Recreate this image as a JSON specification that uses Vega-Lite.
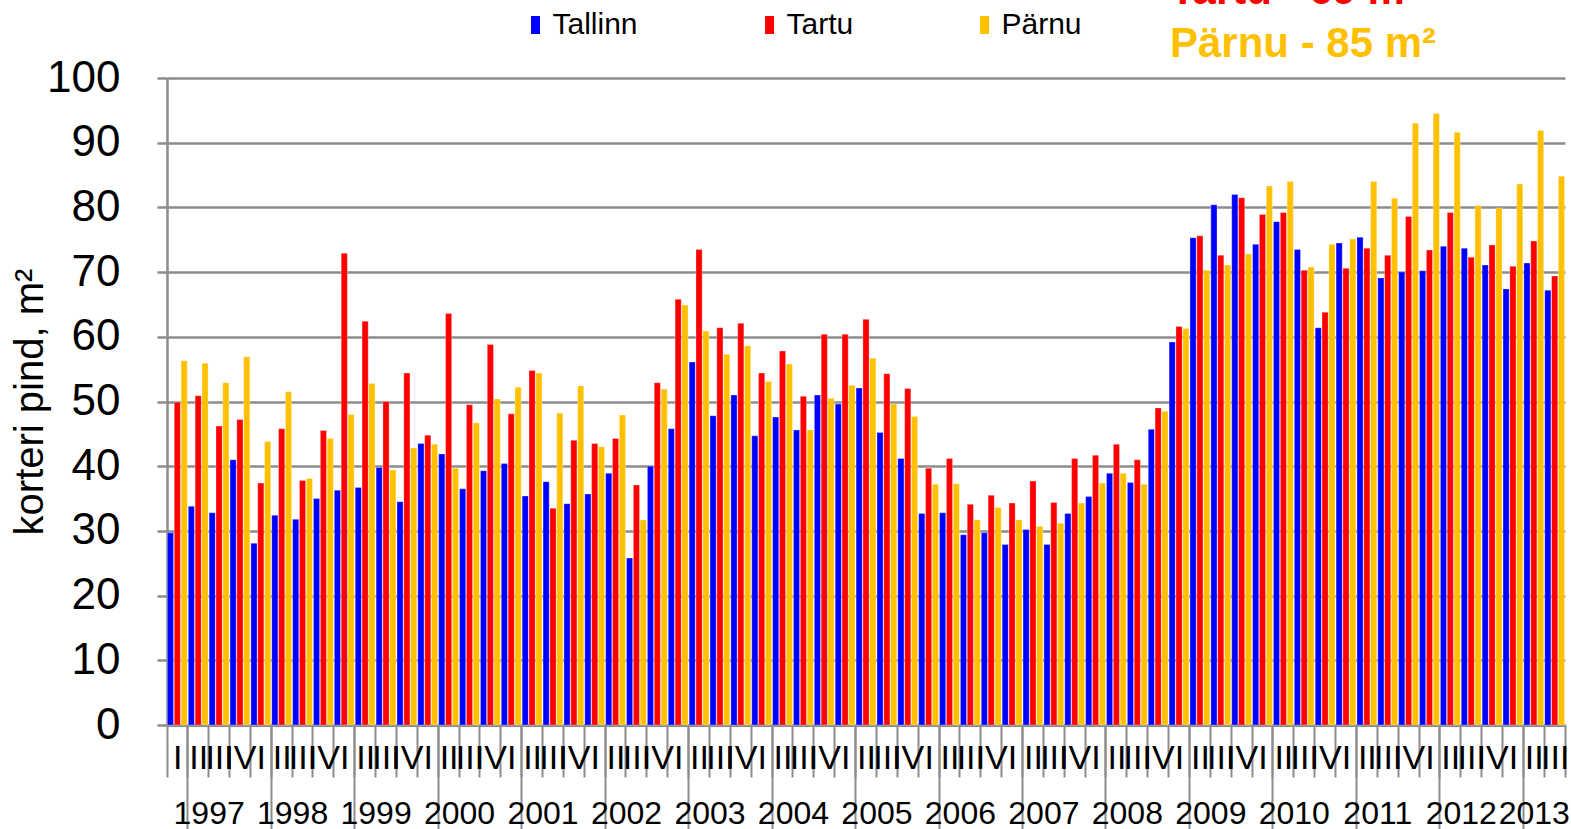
{
  "$schema": "https://vega.github.io/schema/vega-lite/v6.json",
  "width": 1398,
  "height": 647,
  "autosize": {"type": "none"},
  "padding": {"left": 167, "top": 78, "right": 6, "bottom": 104},
  "background": "white",
  "config": {"font": "Liberation Sans", "view": {"stroke": null}},
  "title": {
    "text": "Tartu - 69 m²",
    "subtitle": "Pärnu - 85 m²",
    "anchor": "start",
    "frame": "group",
    "dx": 1003,
    "dy": 56,
    "offset": 0,
    "fontSize": 42,
    "fontWeight": "bold",
    "color": "#FF0000",
    "subtitleFontSize": 42,
    "subtitleFontWeight": "bold",
    "subtitleColor": "#FFC000",
    "subtitlePadding": 11
  },
  "data": {
    "values": [
      {"period": "1997-I", "city": "Tallinn", "value": 29.7}, {"period": "1997-I", "city": "Tartu", "value": 49.9}, {"period": "1997-I", "city": "Pärnu", "value": 56.3},
      {"period": "1997-II", "city": "Tallinn", "value": 33.8}, {"period": "1997-II", "city": "Tartu", "value": 50.9}, {"period": "1997-II", "city": "Pärnu", "value": 55.9},
      {"period": "1997-III", "city": "Tallinn", "value": 32.8}, {"period": "1997-III", "city": "Tartu", "value": 46.2}, {"period": "1997-III", "city": "Pärnu", "value": 52.9},
      {"period": "1997-IV", "city": "Tallinn", "value": 41.0}, {"period": "1997-IV", "city": "Tartu", "value": 47.2}, {"period": "1997-IV", "city": "Pärnu", "value": 56.9},
      {"period": "1998-I", "city": "Tallinn", "value": 28.1}, {"period": "1998-I", "city": "Tartu", "value": 37.4}, {"period": "1998-I", "city": "Pärnu", "value": 43.8},
      {"period": "1998-II", "city": "Tallinn", "value": 32.4}, {"period": "1998-II", "city": "Tartu", "value": 45.8}, {"period": "1998-II", "city": "Pärnu", "value": 51.5},
      {"period": "1998-III", "city": "Tallinn", "value": 31.8}, {"period": "1998-III", "city": "Tartu", "value": 37.8}, {"period": "1998-III", "city": "Pärnu", "value": 38.1},
      {"period": "1998-IV", "city": "Tallinn", "value": 35.0}, {"period": "1998-IV", "city": "Tartu", "value": 45.5}, {"period": "1998-IV", "city": "Pärnu", "value": 44.3},
      {"period": "1999-I", "city": "Tallinn", "value": 36.3}, {"period": "1999-I", "city": "Tartu", "value": 72.9}, {"period": "1999-I", "city": "Pärnu", "value": 48.0},
      {"period": "1999-II", "city": "Tallinn", "value": 36.7}, {"period": "1999-II", "city": "Tartu", "value": 62.4}, {"period": "1999-II", "city": "Pärnu", "value": 52.8},
      {"period": "1999-III", "city": "Tallinn", "value": 39.8}, {"period": "1999-III", "city": "Tartu", "value": 50.0}, {"period": "1999-III", "city": "Pärnu", "value": 39.4},
      {"period": "1999-IV", "city": "Tallinn", "value": 34.5}, {"period": "1999-IV", "city": "Tartu", "value": 54.4}, {"period": "1999-IV", "city": "Pärnu", "value": 42.8},
      {"period": "2000-I", "city": "Tallinn", "value": 43.5}, {"period": "2000-I", "city": "Tartu", "value": 44.8}, {"period": "2000-I", "city": "Pärnu", "value": 43.4},
      {"period": "2000-II", "city": "Tallinn", "value": 41.9}, {"period": "2000-II", "city": "Tartu", "value": 63.6}, {"period": "2000-II", "city": "Pärnu", "value": 39.7},
      {"period": "2000-III", "city": "Tallinn", "value": 36.5}, {"period": "2000-III", "city": "Tartu", "value": 49.5}, {"period": "2000-III", "city": "Pärnu", "value": 46.7},
      {"period": "2000-IV", "city": "Tallinn", "value": 39.3}, {"period": "2000-IV", "city": "Tartu", "value": 58.8}, {"period": "2000-IV", "city": "Pärnu", "value": 50.4},
      {"period": "2001-I", "city": "Tallinn", "value": 40.4}, {"period": "2001-I", "city": "Tartu", "value": 48.1}, {"period": "2001-I", "city": "Pärnu", "value": 52.2},
      {"period": "2001-II", "city": "Tallinn", "value": 35.4}, {"period": "2001-II", "city": "Tartu", "value": 54.8}, {"period": "2001-II", "city": "Pärnu", "value": 54.4},
      {"period": "2001-III", "city": "Tallinn", "value": 37.6}, {"period": "2001-III", "city": "Tartu", "value": 33.5}, {"period": "2001-III", "city": "Pärnu", "value": 48.2},
      {"period": "2001-IV", "city": "Tallinn", "value": 34.2}, {"period": "2001-IV", "city": "Tartu", "value": 44.0}, {"period": "2001-IV", "city": "Pärnu", "value": 52.4},
      {"period": "2002-I", "city": "Tallinn", "value": 35.7}, {"period": "2002-I", "city": "Tartu", "value": 43.5}, {"period": "2002-I", "city": "Pärnu", "value": 43.0},
      {"period": "2002-II", "city": "Tallinn", "value": 38.9}, {"period": "2002-II", "city": "Tartu", "value": 44.3}, {"period": "2002-II", "city": "Pärnu", "value": 47.9},
      {"period": "2002-III", "city": "Tallinn", "value": 25.8}, {"period": "2002-III", "city": "Tartu", "value": 37.1}, {"period": "2002-III", "city": "Pärnu", "value": 31.7},
      {"period": "2002-IV", "city": "Tallinn", "value": 40.0}, {"period": "2002-IV", "city": "Tartu", "value": 52.9}, {"period": "2002-IV", "city": "Pärnu", "value": 51.9},
      {"period": "2003-I", "city": "Tallinn", "value": 45.8}, {"period": "2003-I", "city": "Tartu", "value": 65.8}, {"period": "2003-I", "city": "Pärnu", "value": 64.9},
      {"period": "2003-II", "city": "Tallinn", "value": 56.1}, {"period": "2003-II", "city": "Tartu", "value": 73.5}, {"period": "2003-II", "city": "Pärnu", "value": 60.9},
      {"period": "2003-III", "city": "Tallinn", "value": 47.8}, {"period": "2003-III", "city": "Tartu", "value": 61.4}, {"period": "2003-III", "city": "Pärnu", "value": 57.3},
      {"period": "2003-IV", "city": "Tallinn", "value": 51.0}, {"period": "2003-IV", "city": "Tartu", "value": 62.1}, {"period": "2003-IV", "city": "Pärnu", "value": 58.6},
      {"period": "2004-I", "city": "Tallinn", "value": 44.7}, {"period": "2004-I", "city": "Tartu", "value": 54.4}, {"period": "2004-I", "city": "Pärnu", "value": 53.1},
      {"period": "2004-II", "city": "Tallinn", "value": 47.6}, {"period": "2004-II", "city": "Tartu", "value": 57.8}, {"period": "2004-II", "city": "Pärnu", "value": 55.8},
      {"period": "2004-III", "city": "Tallinn", "value": 45.6}, {"period": "2004-III", "city": "Tartu", "value": 50.8}, {"period": "2004-III", "city": "Pärnu", "value": 45.6},
      {"period": "2004-IV", "city": "Tallinn", "value": 51.0}, {"period": "2004-IV", "city": "Tartu", "value": 60.4}, {"period": "2004-IV", "city": "Pärnu", "value": 50.5},
      {"period": "2005-I", "city": "Tallinn", "value": 49.6}, {"period": "2005-I", "city": "Tartu", "value": 60.4}, {"period": "2005-I", "city": "Pärnu", "value": 52.5},
      {"period": "2005-II", "city": "Tallinn", "value": 52.1}, {"period": "2005-II", "city": "Tartu", "value": 62.7}, {"period": "2005-II", "city": "Pärnu", "value": 56.7},
      {"period": "2005-III", "city": "Tallinn", "value": 45.2}, {"period": "2005-III", "city": "Tartu", "value": 54.3}, {"period": "2005-III", "city": "Pärnu", "value": 49.6},
      {"period": "2005-IV", "city": "Tallinn", "value": 41.2}, {"period": "2005-IV", "city": "Tartu", "value": 52.0}, {"period": "2005-IV", "city": "Pärnu", "value": 47.7},
      {"period": "2006-I", "city": "Tallinn", "value": 32.7}, {"period": "2006-I", "city": "Tartu", "value": 39.7}, {"period": "2006-I", "city": "Pärnu", "value": 37.2},
      {"period": "2006-II", "city": "Tallinn", "value": 32.8}, {"period": "2006-II", "city": "Tartu", "value": 41.2}, {"period": "2006-II", "city": "Pärnu", "value": 37.3},
      {"period": "2006-III", "city": "Tallinn", "value": 29.4}, {"period": "2006-III", "city": "Tartu", "value": 34.1}, {"period": "2006-III", "city": "Pärnu", "value": 31.7},
      {"period": "2006-IV", "city": "Tallinn", "value": 29.7}, {"period": "2006-IV", "city": "Tartu", "value": 35.5}, {"period": "2006-IV", "city": "Pärnu", "value": 33.6},
      {"period": "2007-I", "city": "Tallinn", "value": 27.9}, {"period": "2007-I", "city": "Tartu", "value": 34.3}, {"period": "2007-I", "city": "Pärnu", "value": 31.7},
      {"period": "2007-II", "city": "Tallinn", "value": 30.2}, {"period": "2007-II", "city": "Tartu", "value": 37.7}, {"period": "2007-II", "city": "Pärnu", "value": 30.7},
      {"period": "2007-III", "city": "Tallinn", "value": 27.9}, {"period": "2007-III", "city": "Tartu", "value": 34.4}, {"period": "2007-III", "city": "Pärnu", "value": 31.2},
      {"period": "2007-IV", "city": "Tallinn", "value": 32.7}, {"period": "2007-IV", "city": "Tartu", "value": 41.2}, {"period": "2007-IV", "city": "Pärnu", "value": 34.3},
      {"period": "2008-I", "city": "Tallinn", "value": 35.3}, {"period": "2008-I", "city": "Tartu", "value": 41.7}, {"period": "2008-I", "city": "Pärnu", "value": 37.4},
      {"period": "2008-II", "city": "Tallinn", "value": 38.9}, {"period": "2008-II", "city": "Tartu", "value": 43.4}, {"period": "2008-II", "city": "Pärnu", "value": 38.9},
      {"period": "2008-III", "city": "Tallinn", "value": 37.5}, {"period": "2008-III", "city": "Tartu", "value": 41.0}, {"period": "2008-III", "city": "Pärnu", "value": 37.2},
      {"period": "2008-IV", "city": "Tallinn", "value": 45.7}, {"period": "2008-IV", "city": "Tartu", "value": 49.0}, {"period": "2008-IV", "city": "Pärnu", "value": 48.5},
      {"period": "2009-I", "city": "Tallinn", "value": 59.2}, {"period": "2009-I", "city": "Tartu", "value": 61.6}, {"period": "2009-I", "city": "Pärnu", "value": 61.3},
      {"period": "2009-II", "city": "Tallinn", "value": 75.3}, {"period": "2009-II", "city": "Tartu", "value": 75.6}, {"period": "2009-II", "city": "Pärnu", "value": 70.3},
      {"period": "2009-III", "city": "Tallinn", "value": 80.4}, {"period": "2009-III", "city": "Tartu", "value": 72.6}, {"period": "2009-III", "city": "Pärnu", "value": 71.1},
      {"period": "2009-IV", "city": "Tallinn", "value": 82.0}, {"period": "2009-IV", "city": "Tartu", "value": 81.5}, {"period": "2009-IV", "city": "Pärnu", "value": 72.8},
      {"period": "2010-I", "city": "Tallinn", "value": 74.3}, {"period": "2010-I", "city": "Tartu", "value": 78.9}, {"period": "2010-I", "city": "Pärnu", "value": 83.3},
      {"period": "2010-II", "city": "Tallinn", "value": 77.8}, {"period": "2010-II", "city": "Tartu", "value": 79.2}, {"period": "2010-II", "city": "Pärnu", "value": 84.0},
      {"period": "2010-III", "city": "Tallinn", "value": 73.5}, {"period": "2010-III", "city": "Tartu", "value": 70.3}, {"period": "2010-III", "city": "Pärnu", "value": 70.8},
      {"period": "2010-IV", "city": "Tallinn", "value": 61.4}, {"period": "2010-IV", "city": "Tartu", "value": 63.8}, {"period": "2010-IV", "city": "Pärnu", "value": 74.3},
      {"period": "2011-I", "city": "Tallinn", "value": 74.5}, {"period": "2011-I", "city": "Tartu", "value": 70.6}, {"period": "2011-I", "city": "Pärnu", "value": 75.1},
      {"period": "2011-II", "city": "Tallinn", "value": 75.4}, {"period": "2011-II", "city": "Tartu", "value": 73.7}, {"period": "2011-II", "city": "Pärnu", "value": 84.0},
      {"period": "2011-III", "city": "Tallinn", "value": 69.1}, {"period": "2011-III", "city": "Tartu", "value": 72.6}, {"period": "2011-III", "city": "Pärnu", "value": 81.4},
      {"period": "2011-IV", "city": "Tallinn", "value": 70.0}, {"period": "2011-IV", "city": "Tartu", "value": 78.6}, {"period": "2011-IV", "city": "Pärnu", "value": 93.0},
      {"period": "2012-I", "city": "Tallinn", "value": 70.2}, {"period": "2012-I", "city": "Tartu", "value": 73.4}, {"period": "2012-I", "city": "Pärnu", "value": 94.5},
      {"period": "2012-II", "city": "Tallinn", "value": 74.0}, {"period": "2012-II", "city": "Tartu", "value": 79.2}, {"period": "2012-II", "city": "Pärnu", "value": 91.6},
      {"period": "2012-III", "city": "Tallinn", "value": 73.7}, {"period": "2012-III", "city": "Tartu", "value": 72.3}, {"period": "2012-III", "city": "Pärnu", "value": 80.3},
      {"period": "2012-IV", "city": "Tallinn", "value": 71.1}, {"period": "2012-IV", "city": "Tartu", "value": 74.2}, {"period": "2012-IV", "city": "Pärnu", "value": 79.9},
      {"period": "2013-I", "city": "Tallinn", "value": 67.4}, {"period": "2013-I", "city": "Tartu", "value": 70.9}, {"period": "2013-I", "city": "Pärnu", "value": 83.6},
      {"period": "2013-II", "city": "Tallinn", "value": 71.4}, {"period": "2013-II", "city": "Tartu", "value": 74.8}, {"period": "2013-II", "city": "Pärnu", "value": 91.9},
      {"period": "2013-III", "city": "Tallinn", "value": 67.2}, {"period": "2013-III", "city": "Tartu", "value": 69.4}, {"period": "2013-III", "city": "Pärnu", "value": 84.8}
    ]
  },
  "layer": [
    {
      "mark": {"type": "bar", "stroke": "#ffffff", "strokeOpacity": 0.5, "strokeWidth": 0.6},
      "encoding": {
        "x": {
          "field": "period", "type": "nominal", "sort": null,
          "scale": {"paddingInner": 0.05, "paddingOuter": 0.02},
          "axis": {
            "title": null, "orient": "bottom", "tickBand": "extent", "tickExtra": true,
            "labelExpr": "split(datum.value, '-')[1]",
            "labelAngle": 0, "labelFontSize": 34, "labelColor": "#000000",
            "labelPadding": -36, "labelBaseline": "top",
            "labelOverlap": false, "labelBound": false, "labelFlush": false,
            "tickSize": 52, "tickColor": "#8c8c8c", "tickWidth": 2,
            "domainColor": "#8c8c8c", "domainWidth": 3, "grid": false
          }
        },
        "xOffset": {"field": "city", "type": "nominal", "sort": ["Tallinn", "Tartu", "Pärnu"], "scale": {"paddingInner": 0.1}},
        "y": {
          "field": "value", "type": "quantitative",
          "scale": {"domain": [0, 100]},
          "axis": {
            "title": "korteri pind, m²",
            "values": [0, 10, 20, 30, 40, 50, 60, 70, 80, 90, 100],
            "grid": true, "gridColor": "#8c8c8c", "gridWidth": 2.5,
            "domainColor": "#8c8c8c", "domainWidth": 2.5,
            "tickColor": "#8c8c8c", "tickWidth": 2.5, "tickSize": 10,
            "labelFontSize": 44, "labelColor": "#000000", "labelPadding": 37,
            "titleFontSize": 40, "titleFontWeight": "normal", "titleColor": "#000000",
            "titleX": -137, "titleY": 323.5, "titleAngle": -90,
            "titleBaseline": "middle", "titleAlign": "center"
          }
        },
        "color": {
          "field": "city", "type": "nominal",
          "scale": {"domain": ["Tallinn", "Tartu", "Pärnu"], "range": ["#0000FF", "#FF0000", "#FFC000"]},
          "legend": {
            "title": null, "orient": "none", "legendX": 353.5, "legendY": -68,
            "direction": "horizontal", "padding": 0,
            "symbolType": "M-0.5,-1H0.5V1H-0.5Z", "symbolSize": 324, "symbolStrokeWidth": 0,
            "labelFontSize": 30, "labelColor": "#000000", "labelOffset": 2,
            "columnPadding": 116
          }
        }
      }
    },
    {
      "mark": {"type": "rule", "opacity": 0},
      "encoding": {
        "x": {
          "field": "period", "type": "nominal", "sort": null,
          "axis": {
            "title": null, "orient": "bottom", "tickBand": "extent", "tickExtra": true,
            "labelExpr": "split(datum.value, '-')[1] == 'II' ? split(datum.value, '-')[0] : ''",
            "labelAngle": 0, "labelFontSize": 32, "labelColor": "#000000",
            "labelOffset": {"condition": {"test": "datum.value == '2013-II'", "value": 0}, "value": 10.43},
            "labelPadding": -31, "labelBaseline": "top",
            "labelOverlap": false, "labelBound": false, "labelFlush": false,
            "tickSize": 104, "tickColor": "#8c8c8c", "tickWidth": 2,
            "tickOpacity": {"condition": {"test": "split(datum.value, '-')[1] == 'I'", "value": 1}, "value": 0},
            "domain": false, "grid": false
          }
        }
      }
    }
  ],
  "resolve": {"axis": {"x": "independent"}}
}
